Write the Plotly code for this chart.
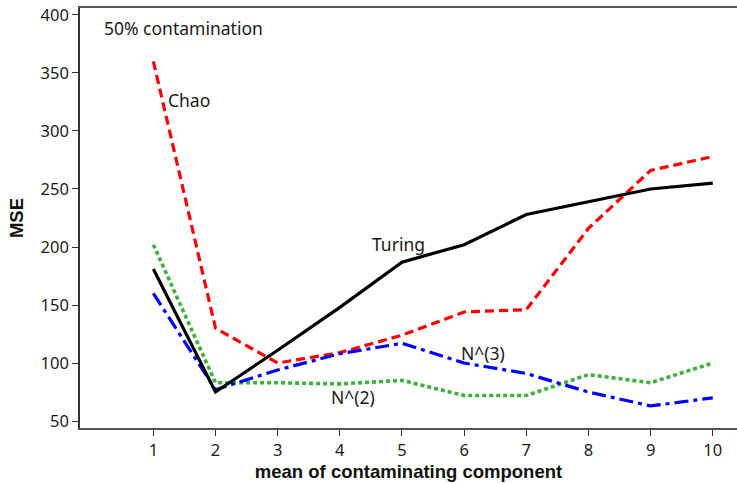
import plotly.graph_objects as go

# Mean of the contaminating component
x_vals = [1, 2, 3, 4, 5, 6, 7, 8, 9, 10]

# MSE of each estimator at 50% contamination
turing = [181, 75, 111, 148, 187, 202, 228, 239, 250, 255]
chao = [360, 130, 100, 109, 124, 144, 146, 216, 266, 278]
n3 = [160, 77, 94, 108, 117, 100, 91, 75, 63, 70]
n2 = [202, 83, 83, 82, 85, 72, 72, 90, 83, 100]

y_ticks = [50, 100, 150, 200, 250, 300, 350, 400]

text_font = "Noto Sans, Open Sans, sans-serif"
title_font = "Liberation Sans, Arial, sans-serif"

fig = go.Figure()
fig.add_trace(go.Scatter(x=x_vals, y=chao, mode="lines",
                         line=dict(color="#ff0000", width=3.2, dash="9px,5px")))
fig.add_trace(go.Scatter(x=x_vals, y=n2, mode="lines",
                         line=dict(color="#3cb23c", width=3.6, dash="4px,3px")))
fig.add_trace(go.Scatter(x=x_vals, y=n3, mode="lines",
                         line=dict(color="#0000ff", width=3.2, dash="14px,5px,4px,5px")))
fig.add_trace(go.Scatter(x=x_vals, y=turing, mode="lines",
                         line=dict(color="#000000", width=3.2)))

labels = [
    ("50% contamination", 0.17, 389, "left"),
    ("Chao", 1.58, 327, "center"),
    ("Turing", 4.95, 203, "center"),
    ("N^(3)", 6.3, 109, "center"),
    ("N^(2)", 4.22, 71, "center"),
]
for text, lx, ly, anchor in labels:
    fig.add_annotation(x=lx, y=ly, text=text, showarrow=False, xanchor=anchor,
                       yanchor="middle", font=dict(size=17.5, color="#1a1a1a", family=text_font))

fig.update_layout(
    width=737, height=483,
    margin=dict(l=80, r=0, t=8, b=55),
    paper_bgcolor="white", plot_bgcolor="white",
    showlegend=False,
    font=dict(family=text_font, color="#1a1a1a"),
    xaxis=dict(
        range=[-0.18, 10.39], tickvals=x_vals, ticks="outside", ticklen=6,
        tickcolor="#333333", showgrid=False, zeroline=False,
        showline=True, linecolor="#555555", linewidth=1.5, mirror=True,
        tickfont=dict(size=16.5),
        title=dict(text="<b>mean of contaminating component</b>",
                   font=dict(size=18.5, family=title_font, color="#111111"), standoff=4),
    ),
    yaxis=dict(
        range=[44, 406], tickvals=y_ticks, ticks="outside", ticklen=6,
        tickcolor="#333333", showgrid=False, zeroline=False,
        showline=True, linecolor="#333333", linewidth=1.5,
        tickfont=dict(size=16.5),
        title=dict(text="<b>MSE</b>", font=dict(size=18.5, family=title_font, color="#111111"),
                   standoff=12),
    ),
)

fig.write_html("out.html")
